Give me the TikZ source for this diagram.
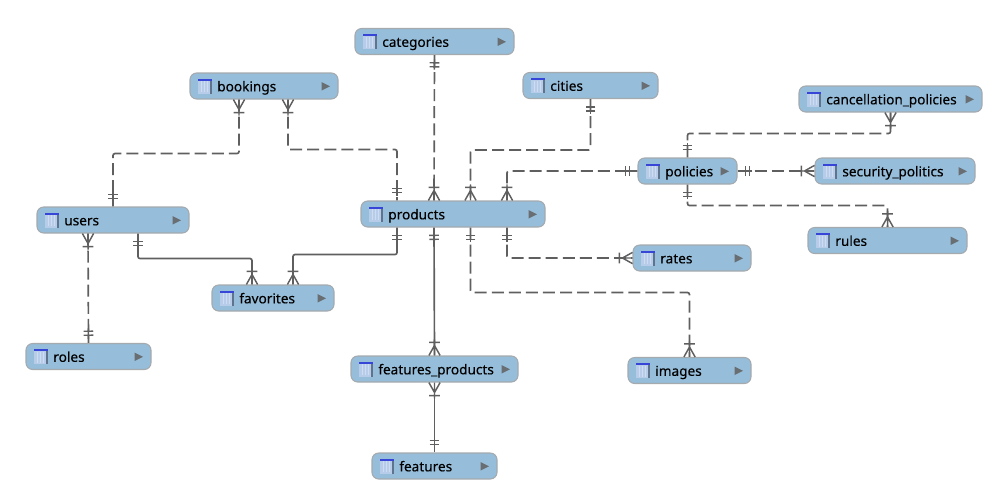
\documentclass[tikz,border=0pt]{standalone}
\usepackage{fontspec}
\setmainfont{Noto Sans}
\newfontfamily\tblfont[FakeBold=0.25]{Noto Sans}
\usepackage{xcolor}

\definecolor{tblblue}{RGB}{150,189,217}
\definecolor{tblline}{RGB}{165,170,175}
\definecolor{relgray}{RGB}{95,95,95}
\definecolor{triangray}{RGB}{105,110,115}
\definecolor{iconbody}{RGB}{182,204,232}
\definecolor{iconrule}{RGB}{205,220,240}
\definecolor{iconshade}{RGB}{95,115,140}
\definecolor{icontop}{RGB}{55,70,215}

% crow foot ends, the line itself runs on to the box
\pgfdeclarearrow{
  name=ErOne,
  setup code={
    \pgfarrowssettipend{0pt}
    \pgfarrowssetlineend{0pt}
    \pgfarrowssetbackend{-11pt}
    \pgfarrowssetvisualbackend{-11pt}
  },
  drawing code={
    \pgfsetdash{}{0pt}
    \pgfsetlinewidth{1.1pt}
    \pgfpathmoveto{\pgfpoint{-11pt}{0pt}}
    \pgfpathlineto{\pgfpoint{-3pt}{0pt}}
    \pgfpathmoveto{\pgfpoint{-8.8pt}{-3.6pt}}
    \pgfpathlineto{\pgfpoint{-8.8pt}{3.6pt}}
    \pgfpathmoveto{\pgfpoint{-5.8pt}{-3.6pt}}
    \pgfpathlineto{\pgfpoint{-5.8pt}{3.6pt}}
    \pgfusepathqstroke
  },
  defaults={}
}
\pgfdeclarearrow{
  name=ErMany,
  setup code={
    \pgfarrowssettipend{0pt}
    \pgfarrowssetlineend{0pt}
    \pgfarrowssetbackend{-12pt}
    \pgfarrowssetvisualbackend{-12pt}
  },
  drawing code={
    \pgfsetdash{}{0pt}
    \pgfsetlinewidth{1.1pt}
    \pgfpathmoveto{\pgfpoint{-12pt}{0pt}}
    \pgfpathlineto{\pgfpoint{0pt}{0pt}}
    \pgfpathmoveto{\pgfpoint{-9.8pt}{-4pt}}
    \pgfpathlineto{\pgfpoint{-9.8pt}{4pt}}
    \pgfpathmoveto{\pgfpoint{0pt}{-4.2pt}}
    \pgfpathlineto{\pgfpoint{-7.5pt}{0pt}}
    \pgfpathlineto{\pgfpoint{0pt}{4.2pt}}
    \pgfusepathqstroke
  },
  defaults={}
}

\newcommand{\tblicon}{%
  \fill[sharp corners,iconshade] ([shift={(7.5,7.5)}]path picture bounding box.west) rectangle ++(14,-15);
  \fill[sharp corners,iconbody] ([shift={(7.5,6)}]path picture bounding box.west) rectangle ++(12.5,-13.5);
  \fill[sharp corners,icontop] ([shift={(7.5,7.5)}]path picture bounding box.west) rectangle ++(14,-2);
  \draw[sharp corners,iconrule,line width=.6pt] ([shift={(11,-6)}]path picture bounding box.west) -- ++(0,11)
    ([shift={(14,-6)}]path picture bounding box.west) -- ++(0,11)
    ([shift={(17,-6)}]path picture bounding box.west) -- ++(0,11);
}
\newcommand{\tbltriangle}{%
  \fill[sharp corners,triangray] ([shift={(-16.5,-4.5)}]path picture bounding box.east) -- ++(8.5,4.2) -- ++(-8.5,4.2) -- cycle;
}

\tikzset{
  tbl/.style={rectangle,rounded corners=5pt,fill=tblblue,draw=tblline,line width=.8pt,
    minimum height=19.5pt,inner xsep=0pt,inner ysep=0pt,text width=#1*0.75pt,align=left,
    text height=8pt,text depth=0pt,font=\tblfont\fontsize{10.2}{11}\selectfont,
    execute at begin node={\hspace*{20.5pt}},
    path picture={\tblicon\tbltriangle}},
  rel/.style={draw=relgray,line width=1.25pt,rounded corners=1.5pt},
  reldash/.style={rel,dash pattern={on 9pt off 3.8pt}}
}

\begin{document}
\begin{tikzpicture}[x=0.75pt,y=0.75pt,yscale=-1]
\useasboundingbox (0,0) rectangle (994,497);

% Tables
\node (categories) at (434.5,41.5) [tbl=159] {categories};
\node (bookings) at (264,86) [tbl=148] {bookings};
\node (cities) at (590.5,85.5) [tbl=135] {cities};
\node (cancellation) at (890.5,99) [tbl=183] {cancellation\_policies};
\node (policies) at (687.5,171) [tbl=99] {policies};
\node (security) at (895,171) [tbl=160] {security\_politics};
\node (products) at (453,214) [tbl=184] {products};
\node (users) at (113,220) [tbl=152] {users};
\node (rules) at (887.5,240.5) [tbl=159] {rules};
\node (rates) at (692,258) [tbl=118] {rates};
\node (favorites) at (273,298) [tbl=122] {favorites};
\node (roles) at (88.5,356.5) [tbl=125] {roles};
\node (featprod) at (434.5,369) [tbl=167] {features\_products};
\node (images) at (689.5,370.5) [tbl=123] {images};
\node (features) at (434.5,466) [tbl=125] {features};

% Dashed relations
\draw [reldash,ErOne-ErMany] (categories.south) -- ([shift={(-19,0)}]products.north);
\draw [reldash,ErMany-ErOne] ([shift={(-25,0)}]bookings.south) -- ++(0,54) -| (users.north);
\draw [reldash,ErMany-ErOne] ([shift={(24,0)}]bookings.south) -- ++(0,50) -| ([shift={(-56,0)}]products.north);
\draw [reldash,ErOne-ErMany] (cities.south) -- ++(0,51) -| ([shift={(17.5,0)}]products.north);
\draw [reldash,ErMany-ErOne] ([shift={(54,0)}]products.north) |- (policies.west);
\draw [reldash,ErOne-ErMany] (policies.north) -- ++(0,-24) -| (cancellation.south);
\draw [reldash,ErOne-ErMany] (policies.east) -- (security.west);
\draw [reldash,ErOne-ErMany] (policies.south) -- ++(0,21) -| (rules.north);
\draw [reldash,ErOne-ErMany] ([shift={(54,0)}]products.south) |- (rates.west);
\draw [reldash,ErOne-ErMany] ([shift={(17.5,0)}]products.south) -- ++(0,65) -| (images.north);
\draw [reldash,ErMany-ErOne] ([shift={(-25,0)}]users.south) -- (roles.north);

% Solid relations
\draw [rel,ErOne-ErMany] ([shift={(-19,0)}]products.south) -- (featprod.north);
\draw [rel,ErMany-ErOne] (featprod.south) -- (features.north);
\draw [rel,ErOne-ErMany] ([shift={(-56,0)}]products.south) -- ++(0,27) -| ([shift={(20,0)}]favorites.north);
\draw [rel,ErOne-ErMany] ([shift={(25,0)}]users.south) -- ++(0,25) -| ([shift={(-21,0)}]favorites.north);
\end{tikzpicture}
\end{document}
